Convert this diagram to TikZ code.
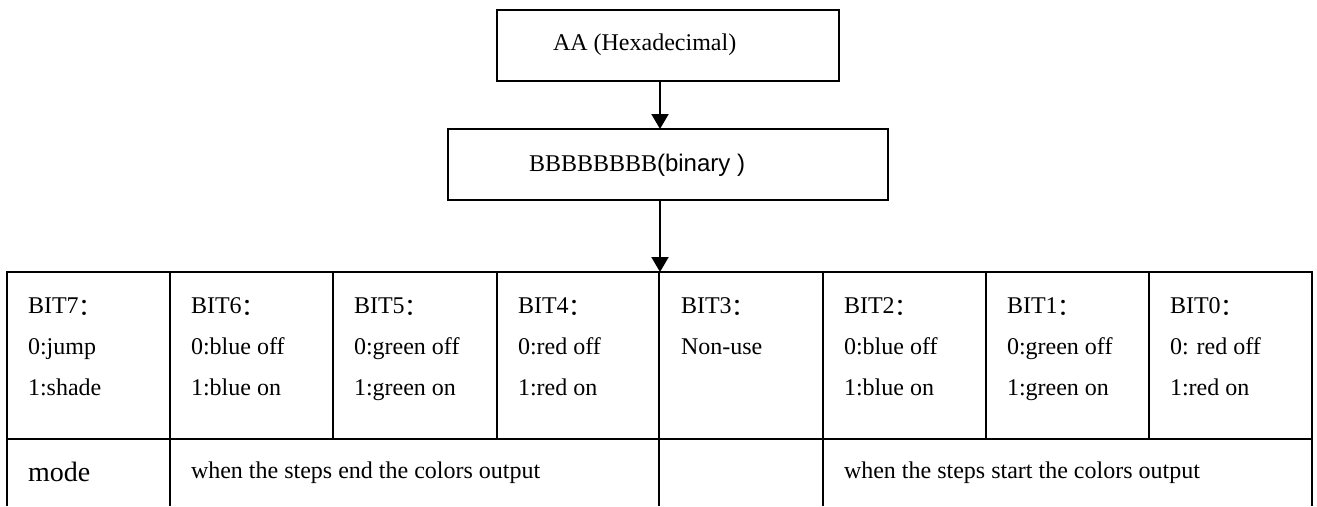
\documentclass[tikz,border=0pt]{standalone}
\usepackage{fontspec}
\setmainfont{Liberation Serif}
\newfontfamily\cjk{Noto Sans CJK SC}
\newfontfamily\arialf{Liberation Sans}
\usetikzlibrary{arrows.meta}
\newcommand{\fwcolon}{\raisebox{-2pt}{\cjk ：}}
\begin{document}
\begin{tikzpicture}[x=1pt,y=-1pt,
  line width=2pt,
  boxst/.style={draw, line width=1.8pt, rectangle, inner sep=0pt, outer sep=0pt},
  txt/.style={anchor=base west, inner sep=0pt, font=\fontsize{24}{24}\selectfont},
  bigtxt/.style={anchor=base west, inner sep=0pt, font=\fontsize{28}{28}\selectfont},
  arr/.style={-{Triangle[width=17pt,length=15pt]}, line width=2pt},
  grid/.style={line width=2pt}]
\useasboundingbox (0,0) rectangle (1317,506);
% top boxes
\node[boxst, minimum width=342pt, minimum height=71pt] (hex) at (668,45.5) {};
\node[boxst, minimum width=440pt, minimum height=71pt] (bin) at (668,164.5) {};
\node[txt] (hext) at (552,50) {AA (Hexadecimal)};
\node[txt] (bint) at (528,171) {BBBBBBBB{\arialf(binary )}};
\coordinate (ax) at (660,0);
\coordinate (tabtop) at (660,272);
\draw[arr] (hex.south -| ax) -- (bin.north -| ax);
\draw[arr] (bin.south -| ax) -- (tabtop);
% table grid
\draw[grid] (7,506) -- (7,272) -- (1312,272) -- (1312,506);
\draw[grid] (7,439) -- (1312,439);
\foreach \x in {170,333,497,659,823,986,1149} \draw[grid] (\x,272) -- (\x,439);
\foreach \x in {170,659,823} \draw[grid] (\x,439) -- (\x,506);
% cell texts
\node[txt] (b7a) at (27,313) {BIT7\fwcolon};
\node[txt] (b7b) at (27,354) {0:jump};
\node[txt] (b7c) at (27,395) {1:shade};
\node[txt] (b6a) at (190,313) {BIT6\fwcolon};
\node[txt] (b6b) at (190,354) {0:blue off};
\node[txt] (b6c) at (190,395) {1:blue on};
\node[txt] (b5a) at (353,313) {BIT5\fwcolon};
\node[txt] (b5b) at (353,354) {0:green off};
\node[txt] (b5c) at (353,395) {1:green on};
\node[txt] (b4a) at (517,313) {BIT4\fwcolon};
\node[txt] (b4b) at (517,354) {0:red off};
\node[txt] (b4c) at (517,395) {1:red on};
\node[txt] (b3a) at (680,313) {BIT3\fwcolon};
\node[txt] (b3b) at (680,354) {Non-use};
\node[txt] (b2a) at (843,313) {BIT2\fwcolon};
\node[txt] (b2b) at (843,354) {0:blue off};
\node[txt] (b2c) at (843,395) {1:blue on};
\node[txt] (b1a) at (1006,313) {BIT1\fwcolon};
\node[txt] (b1b) at (1006,354) {0:green off};
\node[txt] (b1c) at (1006,395) {1:green on};
\node[txt] (b0a) at (1169,313) {BIT0\fwcolon};
\node[txt] (b0b) at (1169,354) {0: red off};
\node[txt] (b0c) at (1169,395) {1:red on};
\node[bigtxt] (mode) at (27,481) {mode};
\node[txt] (endt) at (190,478) {when the steps end the colors output};
\node[txt] (startt) at (843,478) {when the steps start the colors output};
\end{tikzpicture}
\end{document}
